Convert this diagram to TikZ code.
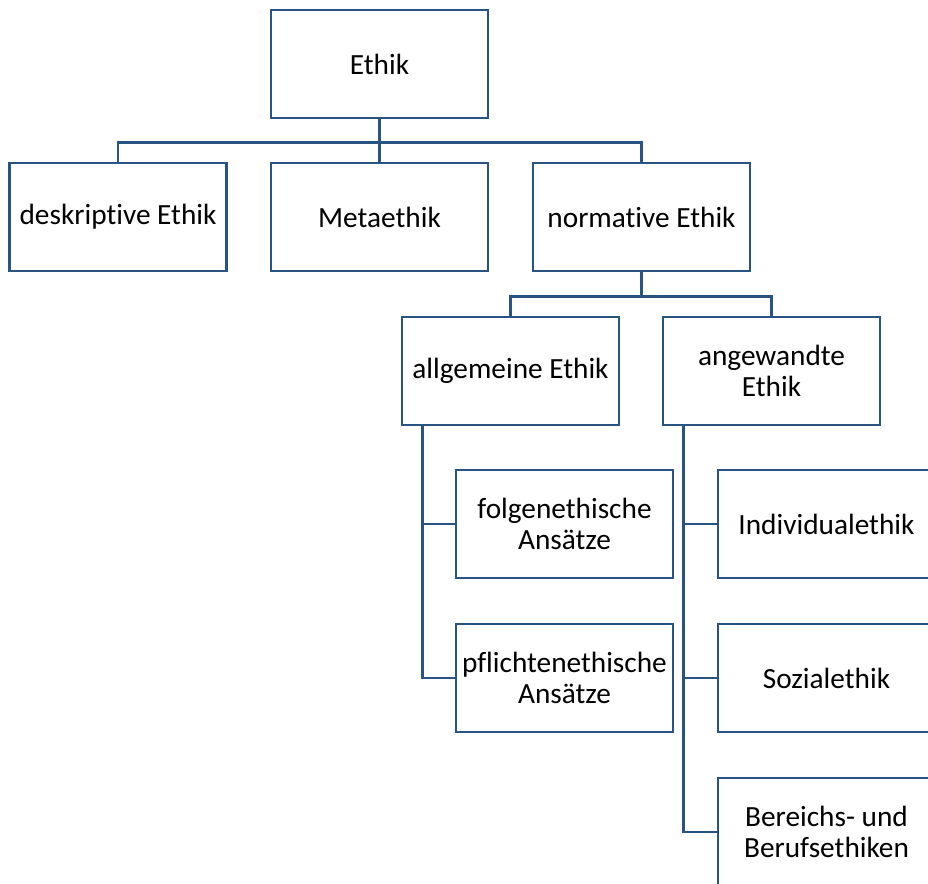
\documentclass[tikz,border=0pt]{standalone}
\usepackage{fontspec}
\setmainfont{Carlito}[Ligatures=NoCommon]
\definecolor{boxblue}{RGB}{40,84,132}
\begin{document}
\begin{tikzpicture}[x=1pt,y=1pt]
	\clip (0,0) rectangle (928,-883);
	\fill[white] (0,0) rectangle (928,-883);
	\begin{scope}[line width=2.8pt,draw=boxblue]
		\tikzstyle{every node}=[draw=boxblue,fill=white,shape=rectangle,line width=2.8pt,minimum width=217pt,minimum height=108pt,inner sep=2pt,align=center,font=\fontsize{29.3}{31.5}\selectfont];
		\path (379.5, -64) node (ethik) {Ethik};
		\path (118  ,-217) node (deskr) {deskriptive Ethik};
		\path (379.5,-217) node (meta)  {Metaethik};
		\path (641.5,-217) node (norm)  {normative Ethik};
		\path (510.5,-371) node (allg)  {allgemeine Ethik};
		\path (771.5,-371) node (angew) {angewandte\\Ethik};
		\path (564.5,-524) node (folge) {folgenethische\\Ansätze};
		\path (564.5,-678) node (pflicht) {pflichtenethische\\Ansätze};
		\path (826.5,-524) node (indiv) {Individualethik};
		\path (826.5,-678) node (sozial) {Sozialethik};
		\path (826.5,-832) node (bereich) {Bereichs- und\\Berufsethiken};

		\draw (ethik.south) -- (meta.north);
		\draw (ethik.south) -- ++(0,-23) -| (deskr.north);
		\draw (ethik.south) -- ++(0,-23) -| (norm.north);
		\draw (norm.south) -- ++(0,-24) -| (allg.north);
		\draw (norm.south) -- ++(0,-24) -| (angew.north);
		\draw ([xshift=22pt]allg.south west) |- (folge.west);
		\draw ([xshift=22pt]allg.south west) |- (pflicht.west);
		\draw ([xshift=22pt]angew.south west) |- (indiv.west);
		\draw ([xshift=22pt]angew.south west) |- (sozial.west);
		\draw ([xshift=22pt]angew.south west) |- (bereich.west);
	\end{scope}
\end{tikzpicture}
\end{document}
